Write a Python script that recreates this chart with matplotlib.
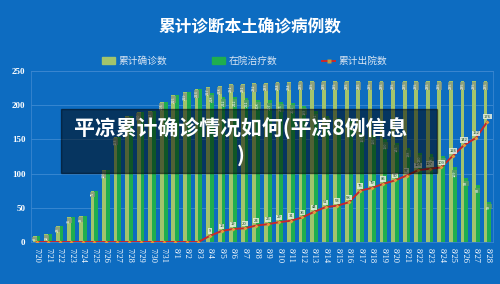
import numpy as np
import matplotlib.pyplot as plt
from matplotlib.patches import Rectangle
from matplotlib.lines import Line2D
from matplotlib.patches import Patch

plt.rcParams['font.family'] = ['Noto Sans CJK SC', 'DejaVu Sans']

dates = ["7/20", "7/21", "7/22", "7/23", "7/24", "7/25", "7/26", "7/27", "7/28", "7/29",
         "7/30", "7/31", "8/1", "8/2", "8/3", "8/4", "8/5", "8/6", "8/7", "8/8",
         "8/9", "8/10", "8/11", "8/12", "8/13", "8/14", "8/15", "8/16", "8/17", "8/18",
         "8/19", "8/20", "8/21", "8/22", "8/23", "8/24", "8/25", "8/26", "8/27", "8/28"]
confirmed = [8, 12, 23, 36, 38, 75, 105, 153, 184, 190,
             192, 205, 215, 219, 223, 227, 228, 231, 231, 232,
             233, 234, 234, 235, 235, 235, 235, 235, 235, 235,
             235, 235, 235, 235, 235, 235, 235, 235, 235, 235]
discharged = [0, 0, 0, 0, 0, 0, 0, 0, 0, 0,
              0, 0, 0, 0, 0, 9, 16, 19, 20, 24,
              26, 29, 31, 36, 44, 51, 53, 58, 75, 79,
              85, 90, 97, 105, 107, 109, 126, 142, 152, 176]
in_hospital = [c - d for c, d in zip(confirmed, discharged)]

BG = '#0d6cc1'
OLIVE = '#a2c46c'
GREEN = '#1fae4f'
RED = '#c9282b'

fig = plt.figure(figsize=(5, 2.84), dpi=100, facecolor=BG)
ax = fig.add_axes([0.062, 0.148, 0.924, 0.602])
ax.set_facecolor(BG)

x = np.arange(len(dates))
w = 0.33
ax.bar(x - w / 2, confirmed, width=w, color=OLIVE, zorder=2)
ax.bar(x + w / 2, in_hospital, width=w, color=GREEN, zorder=2)
ax.plot(x, discharged, color=RED, lw=1.4, marker='D', ms=2, mfc='#e39a3a', mec='none', zorder=4)

# tiny data labels
for i in range(len(x)):
    ax.text(x[i] - w / 2, confirmed[i] - 2, str(confirmed[i]), rotation=90, ha='center', va='top',
            fontsize=2.8, color='white', zorder=5,
            bbox=dict(boxstyle='square,pad=0.1', fc='#8a9a80', ec='none', alpha=0.8))
    if discharged[i] > 0:
        ax.text(x[i] + w / 2, in_hospital[i] - 4, str(in_hospital[i]), rotation=90, ha='center', va='top',
                fontsize=2.8, color='white', zorder=5,
                bbox=dict(boxstyle='square,pad=0.1', fc='#5a9a6a', ec='none', alpha=0.8))
        ax.text(x[i], discharged[i] + 4, str(discharged[i]), ha='center', va='bottom',
                fontsize=3, color='#1a4a20', zorder=5,
                bbox=dict(boxstyle='square,pad=0.15', fc='#e8f0e0', ec='none', alpha=0.85))

ax.set_xlim(-0.48, len(dates) - 0.52)
ax.set_ylim(0, 250)
ax.set_yticks(range(0, 251, 50))
ax.set_xticks(x)
ax.set_xticklabels(dates, rotation=270, fontsize=6, color='white', family='Liberation Serif')
ax.set_yticklabels([str(v) for v in range(0, 251, 50)], fontsize=6.5, color='white',
                   family='Liberation Serif', fontweight='bold')
ax.tick_params(length=0, pad=4)
ax.grid(axis='y', color='#3e8ad2', lw=0.6, zorder=0)
for s in ax.spines.values():
    s.set_color('#3a86cf')
    s.set_linewidth(0.6)

fig.text(0.5, 0.905, '累计诊断本土确诊病例数', ha='center', va='center',
         fontsize=12, fontweight='bold', color='white')

handles = [Patch(color=OLIVE), Patch(color=GREEN),
           Line2D([0], [0], color=RED, lw=1.4, marker='s', ms=3, mfc='#b89a40', mec='none')]
fig.legend(handles, ['累计确诊数', '在院治疗数', '累计出院数'], loc='center',
           bbox_to_anchor=(0.49, 0.785), ncol=3, frameon=False, fontsize=7,
           labelcolor='#dbe6f3', handlelength=1.3, handleheight=0.7, columnspacing=4.6,
           handletextpad=0.4)

# dark overlay banner with caption
fig.patches.append(Rectangle((61 / 500, 1 - 173 / 284), 376 / 500, 64 / 284,
                             transform=fig.transFigure, color='black', alpha=0.5, zorder=10))
fig.text(0.482, 0.5, '平凉累计确诊情况如何(平凉8例信息\n)', ha='center', va='center',
         multialignment='center', fontsize=15, fontweight='bold', color='white',
         linespacing=1.25, zorder=11)

fig.savefig('out.png', dpi=100, facecolor=BG)
